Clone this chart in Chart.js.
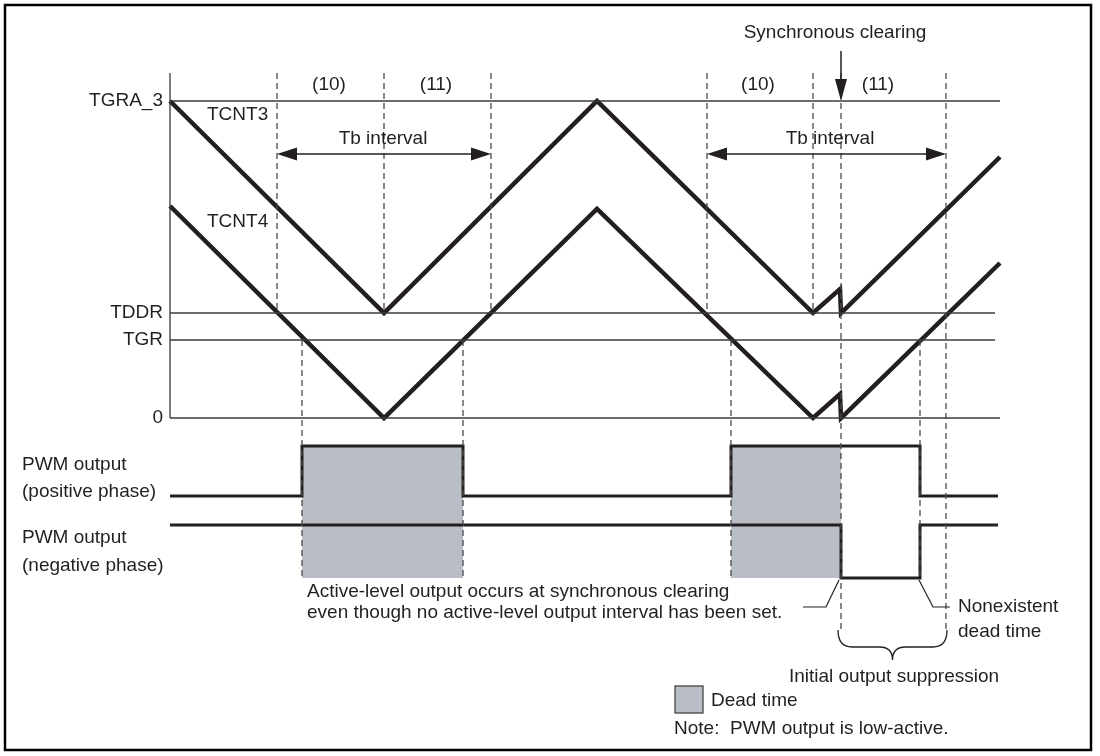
<!DOCTYPE html>
<html>
<head>
<meta charset="utf-8">
<script src="https://cdn.jsdelivr.net/npm/chart.js@4.4.1/dist/chart.umd.min.js"></script>
<style>
  html, body { margin: 0; padding: 0; background: #ffffff; overflow: hidden; }
  #wrap { position: absolute; left: 0; top: 0; width: 1100px; height: 756px; }
</style>
</head>
<body>
<div id="wrap"><canvas id="c"></canvas></div>
<script>
// ---- data (time units along x, counter value along y) ----
const levelNames  = ['TGRA_3', 'TDDR', 'TGR', '0'];
const levelValues = [317, 105, 78, 0];
const levelEnds   = [1000, 995, 995, 1000];
const axisStart   = 170;
const axisTop     = 345;

const tcntTime = [170, 384, 597, 813, 840, 841, 1000];
const tcnt3    = [317, 105, 317, 105, 129, 105, 261];
const tcnt4    = [212,   0, 209,   0,  24,   0, 155];

// dashed timing markers: [time, from value, to value]
const upperMarkTimes = [277, 384, 491, 707, 813];
const longMarkTimes  = [841, 946];
const lowerMarkTimes = [302, 463, 731, 920];

// PWM waveforms
const pwmPosTime   = [170, 302, 302, 463, 463, 731, 731, 920, 920, 998];
const pwmPosLevel  = [0, 0, 1, 1, 0, 0, 1, 1, 0, 0];
const pwmNegTime   = [170, 841, 841, 920, 920, 998];
const pwmNegLevel  = [1, 1, 0, 0, 1, 1];
const pwmPosRail   = [-78, -28];   // level 0, level 1
const pwmNegRail   = [-160, -107]; // level 0, level 1

const deadTimes = [[302, 463], [731, 841]];
const tbIntervals = [[277, 491], [707, 946]];
const phaseLabels = ['(10)', '(11)', '(10)', '(11)'];
const phaseLabelTimes = [329, 436, 758, 878];

// ---- build datasets ----
const INK = '#231f20';
const pts = (xs, ys) => xs.map((x, i) => ({ x, y: ys[i] }));
const datasets = [];

levelValues.forEach((v, i) => {
  datasets.push({ data: [{ x: axisStart, y: v }, { x: levelEnds[i], y: v }],
    borderColor: '#3c3a3b', borderWidth: 1.3 });
});
datasets.push({ data: [{ x: axisStart, y: axisTop }, { x: axisStart, y: 0 }],
  borderColor: '#3c3a3b', borderWidth: 1.3 });

const dash = { borderColor: '#4a4a4a', borderWidth: 1.3, borderDash: [6, 4] };
upperMarkTimes.forEach(t => datasets.push(Object.assign({ data: [{ x: t, y: axisTop }, { x: t, y: levelValues[1] }] }, dash)));
longMarkTimes.forEach(t => datasets.push(Object.assign({ data: [{ x: t, y: axisTop }, { x: t, y: -212 }] }, dash)));
lowerMarkTimes.forEach(t => datasets.push(Object.assign({ data: [{ x: t, y: levelValues[2] }, { x: t, y: -160 }] }, dash)));

datasets.push({ data: pts(pwmPosTime, pwmPosLevel.map(l => pwmPosRail[l])), borderColor: INK, borderWidth: 3, borderJoinStyle: 'miter' });
datasets.push({ data: pts(pwmNegTime, pwmNegLevel.map(l => pwmNegRail[l])), borderColor: INK, borderWidth: 3, borderJoinStyle: 'miter' });

datasets.push({ data: pts(tcntTime, tcnt3), borderColor: INK, borderWidth: 4.5, borderJoinStyle: 'miter' });
datasets.push({ data: pts(tcntTime, tcnt4), borderColor: INK, borderWidth: 4.5, borderJoinStyle: 'miter' });

datasets.forEach(d => { d.showLine = true; d.pointRadius = 0; d.fill = false; d.tension = 0; });

// ---- drawing helpers ----
const FONT = '19px "Liberation Sans", Arial, sans-serif';

function arrowHead(ctx, x, y, dx, dy, len, half) {
  // tip at (x,y), pointing in direction (dx,dy)
  const bx = x - dx * len, by = y - dy * len;
  ctx.beginPath();
  ctx.moveTo(x, y);
  ctx.lineTo(bx - dy * half, by + dx * half);
  ctx.lineTo(bx + dy * half, by - dx * half);
  ctx.closePath();
  ctx.fill();
}

const shadePlugin = {
  id: 'shade',
  beforeDatasetsDraw(chart) {
    const { ctx, scales: { x, y } } = chart;
    ctx.save();
    ctx.fillStyle = '#b9bdc6';
    deadTimes.forEach(([a, b]) => {
      const x0 = x.getPixelForValue(a), x1 = x.getPixelForValue(b);
      const y0 = y.getPixelForValue(pwmPosRail[1]), y1 = y.getPixelForValue(pwmNegRail[0]);
      ctx.fillRect(x0, y0, x1 - x0, y1 - y0);
    });
    ctx.restore();
  }
};

const textPlugin = {
  id: 'texts',
  afterDatasetsDraw(chart) {
    const { ctx, scales: { x, y } } = chart;
    ctx.save();
    ctx.fillStyle = INK;
    ctx.strokeStyle = INK;
    ctx.font = FONT;
    ctx.textBaseline = 'middle';

    // level labels
    ctx.textAlign = 'right';
    levelNames.forEach((n, i) => ctx.fillText(n, 163, y.getPixelForValue(levelValues[i])));

    // counter names
    ctx.textAlign = 'left';
    ctx.fillText('TCNT3', 207, 115);
    ctx.fillText('TCNT4', 207, 222);

    // phase labels
    ctx.textAlign = 'center';
    phaseLabels.forEach((p, i) => ctx.fillText(p, x.getPixelForValue(phaseLabelTimes[i]), 85));

    // Tb interval arrows
    tbIntervals.forEach(([a, b], i) => {
      const x0 = x.getPixelForValue(a), x1 = x.getPixelForValue(b);
      const yy = 154;
      ctx.lineWidth = 1.5;
      ctx.beginPath(); ctx.moveTo(x0 + 10, yy); ctx.lineTo(x1 - 10, yy); ctx.stroke();
      arrowHead(ctx, x0, yy, -1, 0, 20, 6.5);
      arrowHead(ctx, x1, yy, 1, 0, 20, 6.5);
      ctx.fillText('Tb interval', i === 0 ? 383 : 830, 139);
    });

    // synchronous clearing
    ctx.fillText('Synchronous clearing', 835, 33);
    const xc = x.getPixelForValue(longMarkTimes[0]);
    ctx.lineWidth = 1.5;
    ctx.beginPath(); ctx.moveTo(xc, 51); ctx.lineTo(xc, 85); ctx.stroke();
    arrowHead(ctx, xc, y.getPixelForValue(levelValues[0]), 0, 1, 22, 6);

    // left PWM labels
    ctx.textAlign = 'left';
    ctx.fillText('PWM output', 22, 465);
    ctx.fillText('(positive phase)', 22, 492);
    ctx.fillText('PWM output', 22, 538);
    ctx.fillText('(negative phase)', 22, 566);

    // annotation
    ctx.fillText('Active-level output occurs at synchronous clearing', 307, 592);
    ctx.fillText('even though no active-level output interval has been set.', 307, 613);
    ctx.lineWidth = 1.2;
    ctx.beginPath(); ctx.moveTo(803, 607); ctx.lineTo(826, 607); ctx.lineTo(839, 580); ctx.stroke();

    ctx.fillText('Nonexistent', 958, 607);
    ctx.fillText('dead time', 958, 632);
    ctx.beginPath(); ctx.moveTo(919, 580); ctx.lineTo(933, 607); ctx.lineTo(950, 607); ctx.stroke();

    // brace
    const bL = 838, bR = 947, bM = (bL + bR) / 2;
    ctx.lineWidth = 1.3;
    ctx.beginPath();
    ctx.moveTo(bL, 630);
    ctx.quadraticCurveTo(bL, 647, bL + 14, 647);
    ctx.lineTo(bM - 13, 647);
    ctx.quadraticCurveTo(bM, 647, bM, 660);
    ctx.quadraticCurveTo(bM, 647, bM + 13, 647);
    ctx.lineTo(bR - 14, 647);
    ctx.quadraticCurveTo(bR, 647, bR, 630);
    ctx.stroke();
    ctx.textAlign = 'center';
    ctx.fillText('Initial output suppression', 894, 677);

    // legend
    ctx.fillStyle = '#b9bdc6';
    ctx.fillRect(675, 686, 28, 27);
    ctx.strokeStyle = '#444';
    ctx.lineWidth = 1.3;
    ctx.strokeRect(675, 686, 28, 27);
    ctx.fillStyle = INK;
    ctx.textAlign = 'left';
    ctx.fillText('Dead time', 711, 701);
    ctx.fillText('Note:  PWM output is low-active.', 674, 729);

    // frame
    ctx.strokeStyle = '#000';
    ctx.lineWidth = 2.5;
    ctx.strokeRect(5, 5, 1086, 745);
    ctx.restore();
  }
};

new Chart(document.getElementById('c'), {
  type: 'scatter',
  data: { datasets },
  options: {
    responsive: true,
    maintainAspectRatio: false,
    animation: false,
    events: [],
    layout: { padding: 0 },
    plugins: { legend: { display: false }, tooltip: { enabled: false } },
    scales: {
      x: { type: 'linear', min: 0, max: 1100, display: false },
      y: { type: 'linear', min: -338, max: 418, display: false }
    }
  },
  plugins: [shadePlugin, textPlugin]
});
</script>
</body>
</html>
